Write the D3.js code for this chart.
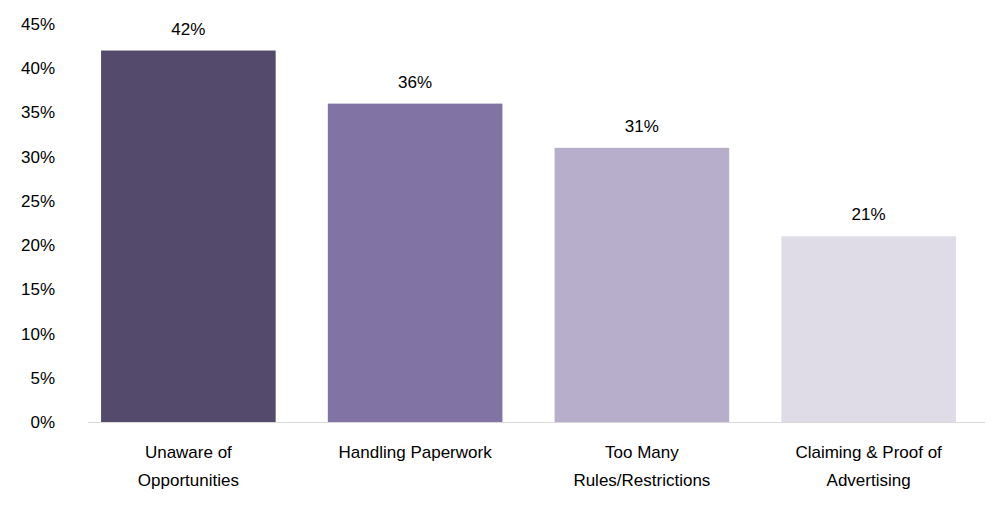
<!DOCTYPE html>
<html><head><meta charset="utf-8">
<script src="https://cdn.jsdelivr.net/npm/d3@7"></script>
<style>body{margin:0;background:#fff}text{font-family:"Liberation Sans",Arial,sans-serif;fill:#000}</style>
</head><body><div id="chart"></div>
<script>
const categories = [["Unaware of", "Opportunities"], ["Handling Paperwork"], ["Too Many", "Rules/Restrictions"], ["Claiming & Proof of", "Advertising"]];
const values = [42, 36, 31, 21];
const colors = ["#544a6c", "#8174a4", "#b7aecc", "#dfdce8"];
const yTicks = [0, 5, 10, 15, 20, 25, 30, 35, 40, 45];

const svg = d3.select("#chart").append("svg").attr("width", 1004).attr("height", 506);

const x = d3.scaleBand().domain(d3.range(values.length)).range([75, 982]).paddingInner(0.23).paddingOuter(0.115);
const y = d3.scaleLinear().domain([0, 45]).range([422, 24]);

svg.append("g").selectAll("text").data(yTicks).enter().append("text")
    .attr("x", 55).attr("y", d => y(d)).attr("dy", "0.35em")
    .attr("text-anchor", "end").attr("font-size", 17).text(d => d + "%");

svg.selectAll("rect.bar").data(values).enter().append("rect")
    .attr("x", (d, i) => x(i)).attr("y", d => y(d))
    .attr("width", x.bandwidth()).attr("height", d => y(0) - y(d))
    .attr("fill", (d, i) => colors[i]);

svg.append("line").attr("x1", 88).attr("x2", 985).attr("y1", y(0) + 0.5).attr("y2", y(0) + 0.5)
    .attr("stroke", "#d9d9d9");

svg.selectAll("text.val").data(values).enter().append("text")
    .attr("x", (d, i) => x(i) + x.bandwidth() / 2).attr("y", d => y(d) - 16)
    .attr("text-anchor", "middle").attr("font-size", 17).text(d => d + "%");

categories.forEach((lines, i) => {
    lines.forEach((l, j) => {
        svg.append("text").attr("x", x(i) + x.bandwidth() / 2).attr("y", 458 + j * 28)
            .attr("text-anchor", "middle").attr("font-size", 17).text(l);
    });
});
</script></body></html>
